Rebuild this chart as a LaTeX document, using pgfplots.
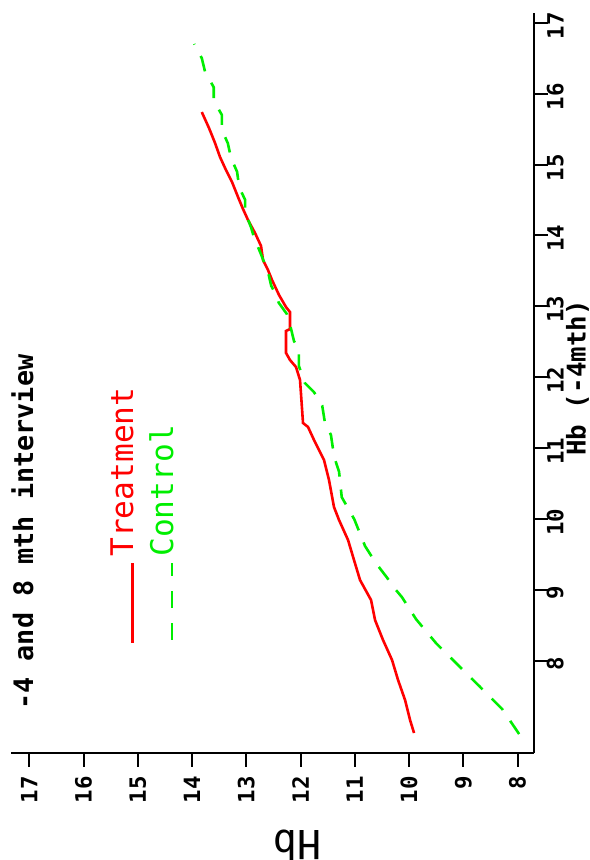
\documentclass[border=0pt]{standalone}
\usepackage{fontspec}
\setmainfont{DejaVu Sans Mono}
\setmonofont{DejaVu Sans Mono}
\usepackage{pgfplots}
\pgfplotsset{compat=1.18}
\usepackage{pgfplotstable}
\definecolor{trtred}{RGB}{255,0,0}
\definecolor{ctlgreen}{RGB}{0,238,0}

% hbpre = Hb at -4 months, hb = Hb at 8 months
\pgfplotstableread{
hbpre hb
6.985 9.907
7.168 9.981
7.45 10.073
7.732 10.202
8.014 10.313
8.296 10.479
8.578 10.626
8.86 10.70
9.142 10.903
9.424 11.014
9.706 11.124
9.988 11.29
10.171 11.383
10.552 11.475
10.834 11.567
11.116 11.751
11.30 11.862
11.356 11.954
11.962 12.009
12.145 12.083
12.244 12.194
12.343 12.267
12.653 12.267
12.68 12.194
12.92 12.194
12.99 12.267
13.16 12.396
13.372 12.525
13.513 12.60
13.654 12.691
13.852 12.728
14.035 12.839
14.218 12.968
14.373 13.06
14.542 13.152
14.754 13.263
14.923 13.374
15.106 13.484
15.304 13.576
15.515 13.687
15.74 13.82
}\treatment

\pgfplotstableread{
hbpre hb
6.97 7.97
7.32 8.28
7.65 8.71
7.93 9.08
8.25 9.50
8.59 9.87
8.90 10.13
9.00 10.24
9.18 10.41
9.38 10.61
9.62 10.81
10.00 11.01
10.31 11.24
10.67 11.29
10.88 11.38
11.19 11.44
11.36 11.55
11.60 11.60
11.79 11.75
11.92 11.92
12.16 12.03
12.40 12.03
12.51 12.12
12.70 12.18
12.89 12.25
13.05 12.40
13.16 12.45
13.29 12.54
13.49 12.60
13.60 12.66
13.70 12.71
13.98 12.86
14.11 12.91
14.33 13.02
14.50 13.02
14.68 13.13
14.90 13.17
15.09 13.28
15.30 13.34
15.49 13.45
15.70 13.45
15.90 13.60
16.09 13.60
16.31 13.76
16.50 13.82
16.70 13.96
}\control

\begin{document}
\begin{tikzpicture}[x=1pt,y=1pt]
\begin{axis}[
  at={(136.25pt,238.5pt)}, anchor=center,
  scale only axis, width=261.5pt, height=370pt,
  x dir=reverse,
  xmin=7.696, xmax=17.337, ymin=6.703, ymax=17.137,
  axis x line=bottom, axis y line=right,
  axis line style={-, line width=1pt},
  xtick={8,...,17}, ytick={8,...,17},
  tick align=outside, major tick length=7pt,
  tick style={line width=1pt, black},
  /pgf/number format/assume math mode=true,
  ticklabel style={font=\bfseries\fontsize{11.2}{12}\selectfont, inner sep=0pt, rotate=90},
  xticklabel style={anchor=east},
  yticklabel style={anchor=south, xshift=-1.5pt},
  xticklabel shift=4.5pt, yticklabel shift=8pt,
  clip=false,
]
\addplot[trtred, line width=1.3pt] table[x=hb, y=hbpre] {\treatment};
\addplot[ctlgreen, line width=1.3pt, dash pattern=on 8pt off 6.5pt] table[x=hb, y=hbpre] {\control};
\end{axis}

\node[rotate=90, anchor=base west, inner sep=0pt, font=\bfseries\fontsize{13.4}{14}\selectfont] at (16.5,75) {-4 and 8 mth interview};

\draw[trtred, line width=1.3pt] (66.25,108.5) -- (66.25,148.5);
\node[rotate=90, anchor=base west, inner sep=0pt, text=trtred, font=\fontsize{15.6}{16}\selectfont] at (66.5,151.5) {Treatment};
\draw[ctlgreen, line width=1.3pt, dash pattern=on 8.5pt off 7.5pt] (86,110) -- (86,148.5);
\node[rotate=90, anchor=base west, inner sep=0pt, text=ctlgreen, font=\fontsize{15.6}{16}\selectfont] at (86.5,151.5) {Control};

\node[rotate=90, font=\bfseries\fontsize{12.9}{13}\selectfont] at (288.75,241) {Hb (-4mth)};
\node[rotate=180, font=\fontsize{20}{20}\selectfont] at (148.5,7.5) {Hb};

\pgfresetboundingbox
\path[use as bounding box] (0,0) rectangle (294.5,430);
\end{tikzpicture}
\end{document}
